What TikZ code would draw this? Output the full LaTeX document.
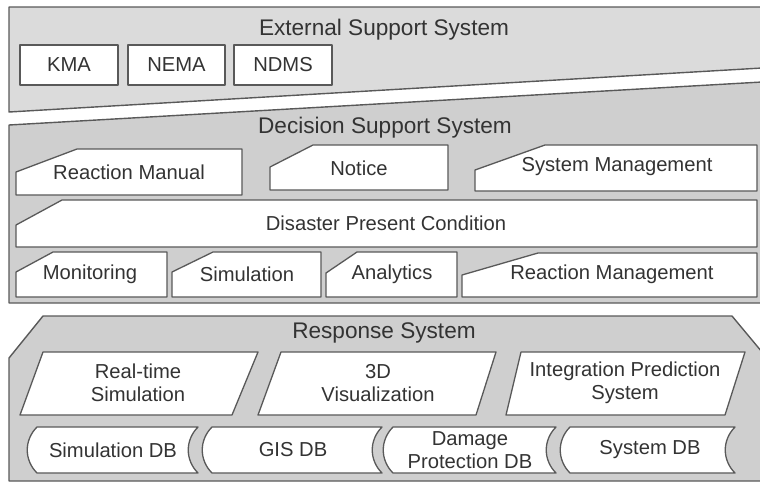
\documentclass[tikz,border=0pt]{standalone}
\usepackage{fontspec}
\setmainfont{Liberation Sans}
\begin{document}
\begin{tikzpicture}[x=1pt,y=-1pt,
  panel/.style={draw=black!65,line width=1.4pt,line join=round},
  box/.style={draw=black!65,fill=white,line width=1.3pt,line join=round},
  lbl/.style={text=black!80,font=\fontsize{20.2}{22.5}\selectfont,align=center,inner sep=0pt},
  ttl/.style={text=black!80,font=\fontsize{22.6}{25}\selectfont,inner sep=0pt}]
\useasboundingbox (0,0) rectangle (760,483);
\clip (0,0) rectangle (760,483);
% panels
\draw[panel,fill=black!14] (9,7) -- (762,7) -- (762,68) -- (9,112) -- cycle;
\draw[panel,fill=black!19] (9,125) -- (762,82) -- (762,303) -- (9,303) -- cycle;
\draw[panel,fill=black!19] (43,316) -- (732,316) -- (762,352) -- (762,481) -- (9,481) -- (9,358) -- cycle;
\node[ttl] (ext) at (384,30) {External Support System};
\node[ttl] (dss) at (385,128) {Decision Support System};
\node[ttl] (rs) at (384,333) {Response System};
% external boxes
\draw[box] (20,45) rectangle (118,85);
\node[lbl] (kma) at (69,65) {KMA};
\draw[box] (128,45) rectangle (225,85);
\node[lbl] (nema) at (176.5,65) {NEMA};
\draw[box] (234,45) rectangle (332,85);
\node[lbl] (ndms) at (283,65) {NDMS};
% decision boxes
\draw[box] (16,195) -- (16,172) -- (77,149) -- (242,149) -- (242,195) -- cycle;
\node[lbl] (rm) at (129,172) {Reaction Manual};
\draw[box] (270,190) -- (270,167) -- (313,145) -- (448,145) -- (448,190) -- cycle;
\node[lbl] (notice) at (359,168) {Notice};
\draw[box] (475,191) -- (475,170) -- (545,145) -- (757,145) -- (757,191) -- cycle;
\node[lbl] (sm) at (617,167) {System Management};
\draw[box] (16,247) -- (16,225) -- (62,200) -- (757,200) -- (757,247) -- cycle;
\node[lbl] (dpc) at (386,223) {Disaster Present Condition};
\draw[box] (16,297) -- (16,272) -- (53,252) -- (167,252) -- (167,297) -- cycle;
\node[lbl] (mon) at (90,274) {Monitoring};
\draw[box] (172,297) -- (172,272) -- (213,252) -- (321,252) -- (321,297) -- cycle;
\node[lbl] (sim) at (247,274) {Simulation};
\draw[box] (326,297) -- (326,273) -- (357,252) -- (457,252) -- (457,297) -- cycle;
\node[lbl] (ana) at (392,274) {Analytics};
\draw[box] (462,297) -- (462,275) -- (538,253) -- (757,253) -- (757,297) -- cycle;
\node[lbl] (rmg) at (612,274) {Reaction Management};
% response parallelograms
\draw[box] (43,352) -- (258,352) -- (232,415) -- (20,415) -- cycle;
\node[lbl] (rts) at (138,383) {Real-time\\Simulation};
\draw[box] (281,352) -- (496,352) -- (476,415) -- (258,415) -- cycle;
\node[lbl] (vis) at (378,383) {3D\\Visualization};
\draw[box] (521,352) -- (745,352) -- (725,415) -- (506,415) -- cycle;
\node[lbl] (ips) at (625,383) {Integration Prediction\\System};
% databases (stored data shape)
\foreach \a/\b in {37/198, 212/382, 393/556, 570/735}{
  \draw[box] (\a,427) -- (\b,427) .. controls (\b-13,440) and (\b-13,460) .. (\b,473)
     -- (\a,473) .. controls (\a-13,460) and (\a-13,440) .. (\a,427) -- cycle;
}
\node[lbl] (sdb) at (113,450) {Simulation DB};
\node[lbl] (gdb) at (293,450) {GIS DB};
\node[lbl] (ddb) at (470,450) {Damage\\Protection DB};
\node[lbl] (ydb) at (650,450) {System DB};
\end{tikzpicture}
\end{document}
